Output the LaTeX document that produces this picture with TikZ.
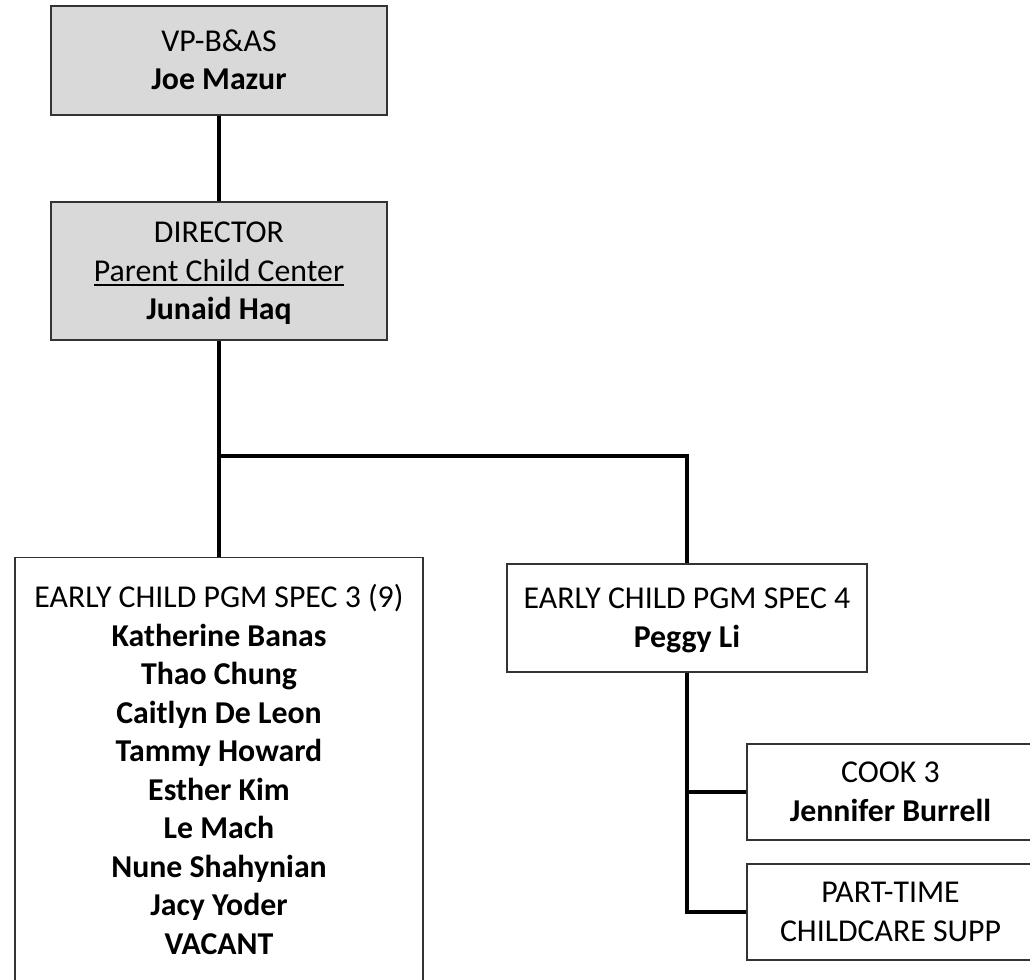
\documentclass[tikz,border=0pt]{standalone}
\usepackage{fontspec}
\setmainfont{Carlito}
\definecolor{boxgray}{HTML}{D9D9D9}
\newcommand{\mystrut}{\rule[-9.25bp]{0pt}{38.5bp}}
\newcommand{\ulbox}[1]{\setbox0=\hbox{#1}\rlap{\rule[-4.6bp]{\wd0}{1.4bp}}\box0}
\tikzset{
  orgbox/.style={draw=black!80, line width=1.3bp, inner sep=0pt, align=center,
    font=\fontsize{31.8bp}{38.5bp}\selectfont},
  shaded/.style={fill=boxgray},
  link/.style={line width=3.6bp, draw=black}
}
\begin{document}
\begin{tikzpicture}[x=1bp,y=-1bp]
\useasboundingbox (0,0) rectangle (1030,980);
\clip (0,0) rectangle (1030,980);

\node[orgbox, shaded, minimum width=336bp, minimum height=109bp] (vp) at (219,60.5)
  {\mystrut VP-B\&AS\\ \mystrut\textbf{Joe Mazur}};
\node[orgbox, shaded, minimum width=336bp, minimum height=138bp] (dir) at (219,271)
  {\mystrut DIRECTOR\\ \mystrut\ulbox{Parent Child Center}\\ \mystrut\textbf{Junaid Haq}};
\node[orgbox, anchor=north, minimum width=408bp, inner ysep=20.75bp] (spec3) at (219,557)
  {\mystrut EARLY CHILD PGM SPEC 3 (9)\\
   \mystrut\textbf{Katherine Banas}\\
   \mystrut\textbf{Thao Chung}\\
   \mystrut\textbf{Caitlyn De Leon}\\
   \mystrut\textbf{Tammy Howard}\\
   \mystrut\textbf{Esther Kim}\\
   \mystrut\textbf{Le Mach}\\
   \mystrut\textbf{Nune Shahynian}\\
   \mystrut\textbf{Jacy Yoder}\\
   \mystrut\textbf{VACANT}};
\node[orgbox, minimum width=360bp, minimum height=108bp] (spec4) at (687,618)
  {\mystrut EARLY CHILD PGM SPEC 4\\ \mystrut\textbf{Peggy Li}};
\node[orgbox, minimum width=287bp, minimum height=96bp] (cook) at (890.5,792)
  {\mystrut COOK 3\\ \mystrut\textbf{Jennifer Burrell}};
\node[orgbox, minimum width=287bp, minimum height=96bp] (pt) at (890.5,912)
  {\mystrut PART-TIME\\ \mystrut CHILDCARE SUPP};

\coordinate (j1) at (219,456);
\coordinate (j2) at (687,792);
\draw[link] (vp.south) -- (dir.north);
\draw[link] (dir.south) -- (spec3.north);
\draw[link] (j1) -| (spec4.north);
\draw[link] (spec4.south) |- (pt.west);
\draw[link] (j2) -- (cook.west);
\end{tikzpicture}
\end{document}
